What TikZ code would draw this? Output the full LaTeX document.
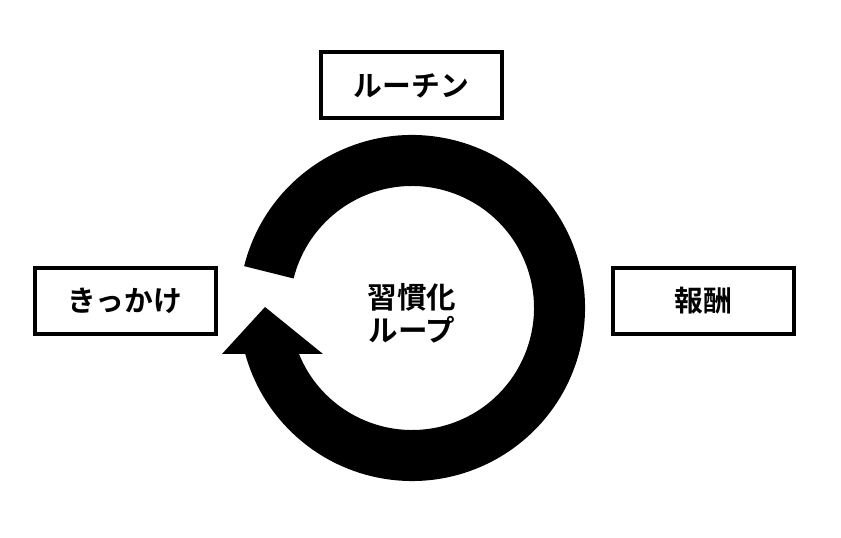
\documentclass[tikz,border=0pt]{standalone}
\usepackage{fontspec}
\newfontfamily\jpfont{Noto Sans CJK JP Bold}
\usetikzlibrary{calc}
\begin{document}
\begin{tikzpicture}[x=1pt,y=1pt,
  labelbox/.style={draw=black,line width=4pt,fill=white,minimum width=181pt,minimum height=66pt,inner sep=0pt,font=\jpfont\fontsize{28.8}{33}\selectfont},
  centertext/.style={align=center,font=\jpfont\fontsize{29.5}{33}\selectfont,inner sep=0pt}]
\useasboundingbox (0,0) rectangle (841,538);
\fill[white] (0,0) rectangle (841,538);
\coordinate (c) at (412,230);
% ring with gap
\fill[black] ($(c)+(166:173)$) arc[start angle=166,end angle=-164.58,radius=173]
  -- ($(c)+(-157.85:122)$) arc[start angle=-157.85,end angle=166,radius=122] -- cycle;
% arrowhead
\coordinate (tipL) at (222,184);
\coordinate (tipR) at (323,184);
\coordinate (tip) at (265,231);
\fill[black] (tipL) -- (tip) -- (tipR) -- cycle;
% boxes
\node[labelbox] (routine) at (411.5,452.5) {ルーチン};
\node[labelbox] (cue) at (125,237) {きっかけ};
\node[labelbox] (reward) at (703.5,237) {報酬};
\node[centertext] (loop) at (412,225) {習慣化\\ループ};
\end{tikzpicture}
\end{document}
